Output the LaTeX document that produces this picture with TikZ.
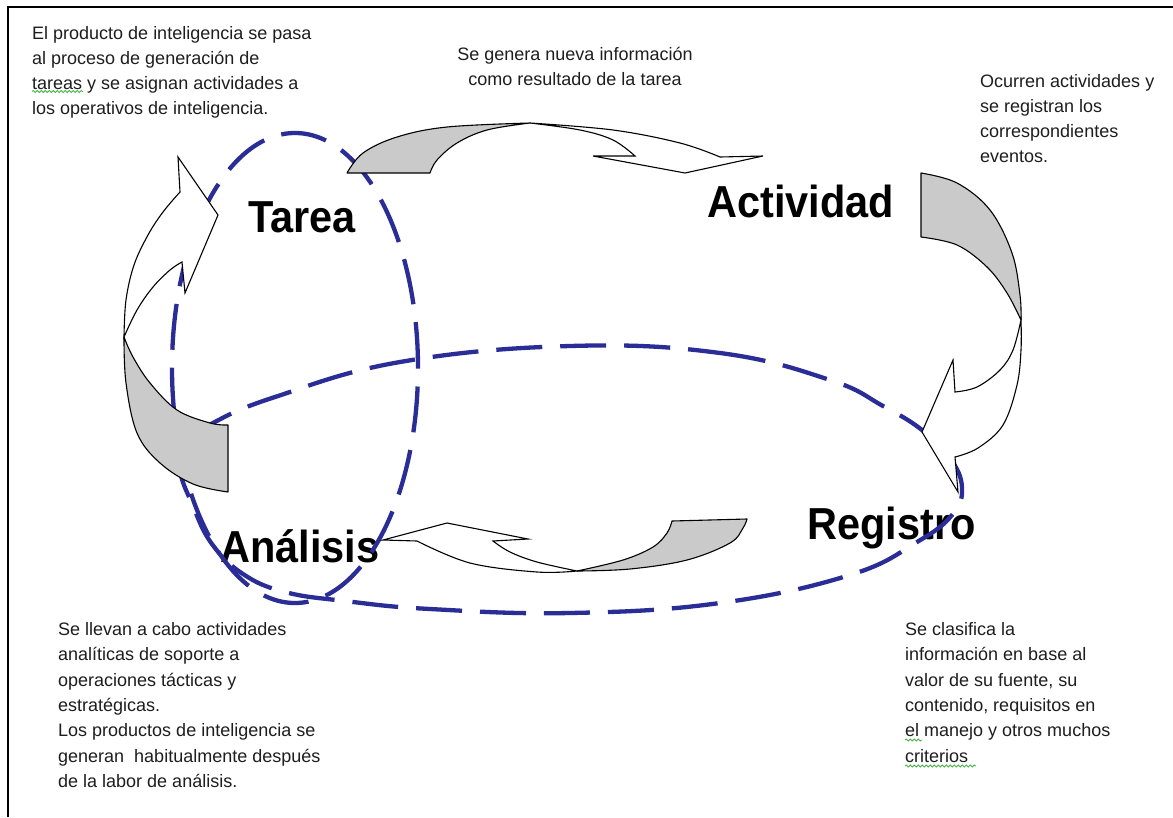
\documentclass[tikz,border=0pt]{standalone}
\usepackage{fontspec}
\setmainfont{Liberation Sans}
\usepackage{graphicx}
\usetikzlibrary{decorations.pathmorphing}
\definecolor{dblue}{RGB}{43,45,150}
\definecolor{bandgray}{RGB}{201,202,201}
\definecolor{txt}{RGB}{30,30,30}
\definecolor{squiggreen}{RGB}{70,180,70}
\begin{document}
\begin{tikzpicture}[x=1pt,y=-1pt,
  ellipsedash/.style={draw=dblue, line width=4.3pt, dash pattern=on 46pt off 18pt},
  grayband/.style={fill=bandgray, draw=black, line width=1.1pt, line join=round},
  whiteband/.style={fill=white, draw=black, line width=1.1pt, line join=miter, miter limit=10},
  sm/.style={smooth, tension=0.6},
  lbl/.style={inner sep=0pt, font=\fontsize{41.5}{45}\selectfont\bfseries, text=black},
  note/.style={inner sep=0pt, align=left, font=\fontsize{18}{25}\selectfont, text=txt},
  notewide/.style={note, font=\fontsize{18}{25.4}\selectfont},
  squig/.style={draw=squiggreen, line width=0.8pt, decorate, decoration={snake, amplitude=1pt, segment length=4pt}}
]
\fill[white] (0,0) rectangle (1173,817);
\useasboundingbox (0,0) rectangle (1173,817);
% frame
\draw[line width=2.6pt] (8,817) -- (8,7) -- (1173,7);

% notes
\node[note, anchor=north west] (n1) at (32,25) {\rule{0pt}{14pt}El producto de inteligencia se pasa\\al proceso de generación de\\tareas y se asignan actividades a\\los operativos de inteligencia.};
\node[note, align=center, anchor=north] (n2) at (575,46) {\rule{0pt}{14pt}Se genera nueva información\\como resultado de la tarea};
\node[note, anchor=north west] (n3) at (980,73) {\rule{0pt}{14pt}Ocurren actividades y\\se registran los\\correspondientes\\eventos.};
\node[notewide, anchor=north west] (n4) at (58,621) {\rule{0pt}{14pt}Se llevan a cabo actividades\\analíticas de soporte a\\operaciones tácticas y\\estratégicas.\\Los productos de inteligencia se\\generan~ habitualmente después\\de la labor de análisis.};
\node[notewide, anchor=north west] (n5) at (905,621) {\rule{0pt}{14pt}Se clasifica la\\información en base al\\valor de su fuente, su\\contenido, requisitos en\\el manejo y otros muchos\\criterios};
\draw[squig] (32,91.5) -- (83,91.5);
\draw[squig] (905,740) -- (922,740);
\draw[squig] (905,766) -- (976,766);

% main labels
\node[lbl, anchor=base west] (tarea) at (248,232) {\scalebox{1}[1.08]{Tarea}};
\node[lbl, anchor=base west] (actividad) at (707,217) {\scalebox{1}[1.08]{Actividad}};
\node[lbl, anchor=base west] (registro) at (807,539) {\scalebox{1}[1.08]{Registro}};
\node[lbl, anchor=base west] (analisis) at (220,562) {\scalebox{1}[1.08]{Análisis}};

% dashed loops
\draw[ellipsedash] (295,368) ellipse [x radius=123pt, y radius=235pt];
\draw[ellipsedash] plot[smooth cycle, tension=0.7] coordinates {
  (570,346) (720,353) (830,380) (883,406) (922,430) (950,458) (962,488)
  (952,515) (917,542) (850,575) (720,603) (570,613) (430,609) (345,601)
  (285,592) (243,574) (212,544) (193,506) (180,468) (190,442) (213,423)
  (275,397) (400,362)};

% arrow 1: Tarea -> Actividad
\path[grayband] plot[sm] coordinates {(347,173) (363,153) (397,137) (447,127) (530,123)}
  -- plot[sm] coordinates {(530,123) (487,130) (457,143) (437,160) (430,173)} -- cycle;
\path[whiteband] plot[sm] coordinates {(530,123) (613,130) (680,143) (720,157)}
  -- (763,156) -- (685,173) -- (593,156) -- (635,156)
  -- plot[sm] coordinates {(635,156) (613,140) (580,130) (530,123)} -- cycle;

% arrow 2: Actividad -> Registro
\path[grayband] plot[sm] coordinates {(921,173) (957,183) (990,210) (1012,253) (1020,295) (1021,320)}
  -- plot[sm] coordinates {(1021,320) (1007,293) (987,267) (957,245) (921,237)} -- cycle;
\path[whiteband] plot[sm] coordinates {(1021,320) (1021,350) (1017,385) (1003,425) (978,448) (955,457)}
  -- (958,492) -- (922,432) -- (953,360) -- (955,392)
  -- plot[sm] coordinates {(955,392) (977,387) (1000,370) (1013,350) (1021,320)} -- cycle;

% arrow 3: Registro -> Analisis
\path[grayband] plot[sm] coordinates {(747,519) (743,528) (730,543) (687,560) (630,569) (577,571)}
  -- plot[sm] coordinates {(577,571) (623,560) (653,547) (667,533) (672,521)} -- cycle;
\path[whiteband] plot[sm] coordinates {(577,571) (537,572) (470,563) (417,541)}
  -- (383,540) -- (447,523) -- (528,539) -- (493,541)
  -- plot[sm] coordinates {(493,541) (510,552) (537,562) (577,571)} -- cycle;

% arrow 4: Analisis -> Tarea
\path[grayband] plot[sm] coordinates {(228,492) (193,484) (160,463) (137,433) (126,383) (124,337)}
  -- plot[sm] coordinates {(124,337) (133,357) (150,383) (177,410) (210,423) (228,425)} -- cycle;
\path[whiteband] plot[sm] coordinates {(124,337) (126,300) (134,265) (148,235) (163,212) (180,192)}
  -- (178,157) -- (218,215) -- (185,293) -- (182,262)
  -- plot[sm] coordinates {(182,262) (170,270) (153,287) (137,310) (124,337)} -- cycle;
\end{tikzpicture}
\end{document}
